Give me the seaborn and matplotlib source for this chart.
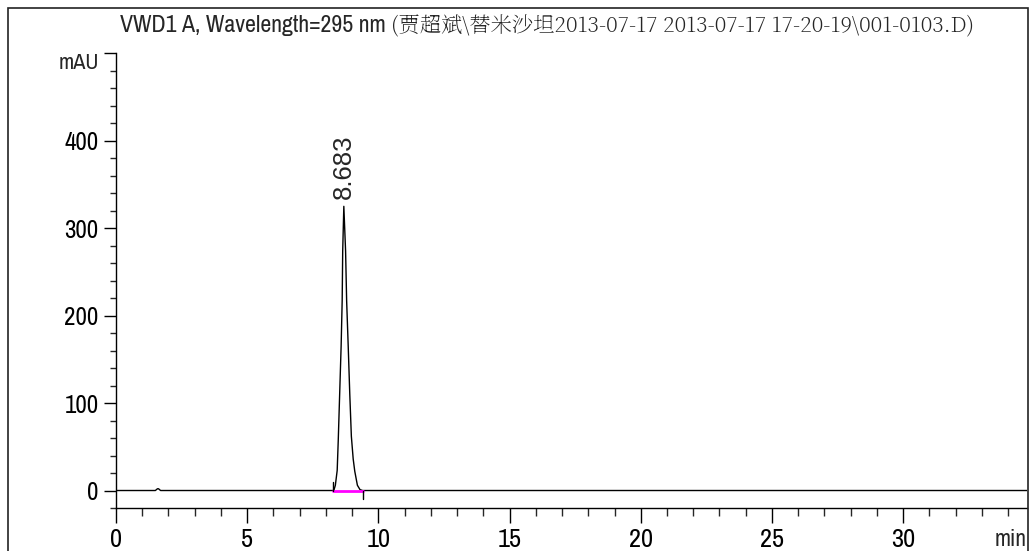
import matplotlib
matplotlib.use("Agg")
import matplotlib.pyplot as plt
import seaborn as sns
import pandas as pd
from matplotlib.patches import Rectangle
from matplotlib.ticker import MultipleLocator, FixedLocator

# ---- data ----
time_min = [0.00, 1.50, 1.58, 1.62, 1.70, 8.20, 8.30, 8.36, 8.43, 8.47, 8.58, 8.62,
            8.64, 8.683, 8.75, 8.79, 8.85, 8.91, 8.97, 9.04, 9.10, 9.20, 9.30, 9.40, 34.72]
signal_mau = [0, 0, 2, 2, 0, 0, 0, 6, 23, 57, 165, 217,
              274, 325, 274, 217, 165, 110, 62, 36, 22, 6, 1, 0, 0]
peak_rt = [8.683]
peak_height = [325]
peak_labels = ["8.683"]
baseline_t = [8.27, 9.40]
baseline_y = [0, 0]
y_ticks = [0, 100, 200, 300, 400]
x_ticks = [0, 5, 10, 15, 20, 25, 30]

title_main = "VWD1 A, Wavelength=295 nm "
title_file = "(贾超斌\\替米沙坦2013-07-17 2013-07-17 17-20-19\\001-0103.D)"

sns.set_style("ticks")
NARROW = ["Archivo Narrow", "PT Sans Narrow", "Roboto Condensed", "DejaVu Sans"]
plt.rcParams["font.family"] = NARROW

W, H = 1030, 551
fig = plt.figure(figsize=(W / 100, H / 100), dpi=100)
ax = fig.add_axes([116 / W, (H - 508) / H, (1027 - 116) / W, (508 - 53.3) / H])

df = pd.DataFrame({"t": time_min, "v": signal_mau})
sns.lineplot(data=df, x="t", y="v", ax=ax, color="black", linewidth=1.0, estimator=None, sort=False)
bl = pd.DataFrame({"t": baseline_t, "v": baseline_y})
sns.lineplot(data=bl, x="t", y="v", ax=ax, color="#ff00ff", linewidth=2.0, estimator=None, sort=False)
# baseline start/end markers
ax.plot([baseline_t[0], baseline_t[0]], [0, 10], color="black", lw=1.0)
ax.plot([baseline_t[1], baseline_t[1]], [0, -10], color="black", lw=1.0)

ax.set_xlim(0, 34.72)
ax.set_ylim(-20, 500)
ax.set_xlabel("")
ax.set_ylabel("")

ax.xaxis.set_major_locator(FixedLocator(x_ticks))
ax.xaxis.set_minor_locator(MultipleLocator(1))
ax.set_xticklabels([str(v) for v in x_ticks])
ax.yaxis.set_major_locator(FixedLocator(y_ticks + [500]))
ax.yaxis.set_minor_locator(MultipleLocator(20))
ax.set_yticklabels([str(v) for v in y_ticks] + [""])

for s in ["top", "right"]:
    ax.spines[s].set_visible(False)
for s in ["left", "bottom"]:
    ax.spines[s].set_linewidth(1.0)
    ax.spines[s].set_color("black")

ax.tick_params(axis="y", which="major", direction="out", length=8.5, width=1, pad=4, labelsize=18, colors="black")
ax.tick_params(axis="y", which="minor", direction="out", length=4.5, width=1)
ax.tick_params(axis="x", which="major", direction="out", length=10.5, width=1, pad=4, labelsize=19, colors="black")
ax.tick_params(axis="x", which="minor", direction="out", length=5.5, width=1)

# peak label
for rt, h, lab in zip(peak_rt, peak_height, peak_labels):
    ax.annotate(lab, xy=(rt, h), xytext=(0, 5), textcoords="offset points",
                rotation=90, ha="center", va="bottom", fontsize=18.5,
                family=["Liberation Sans", "DejaVu Sans"])

# axis unit labels
ax.annotate("mAU", xy=(0, 500), xycoords="data", xytext=(-12, -7), textcoords="offset points",
            ha="right", va="center", fontsize=16)
ax.annotate("min", xy=(1, 0), xycoords="axes fraction", xytext=(0, -15), textcoords="offset points",
            ha="right", va="top", fontsize=17)

# title
t1 = fig.text(120 / W, (H - 32) / H, title_main, ha="left", va="baseline", fontsize=17.2)
fig.canvas.draw()
bb = t1.get_window_extent()
fig.text(bb.x1 / W, (H - 32) / H, title_file, ha="left", va="baseline", fontsize=15.3,
         family=["Noto Serif SC", "Noto Sans CJK SC", "DejaVu Serif"])

# outer frame
fig.patches.append(Rectangle((8 / W, -0.05), (1028 - 8) / W, (H - 8) / H + 0.05,
                             transform=fig.transFigure, fill=False, edgecolor="#222222",
                             linewidth=1.2))

fig.savefig("out.png", dpi=100)
